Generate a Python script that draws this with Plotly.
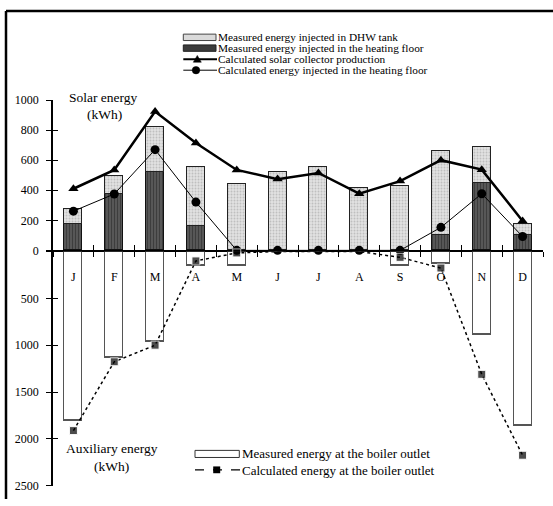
import plotly.graph_objects as go

# Monthly energy balance of the solar combi-system (kWh)
months = ["J", "F", "M", "A", "M", "J", "J", "A", "S", "O", "N", "D"]
heating_floor_measured = [175, 375, 520, 159, 0, 0, 0, 0, 0, 103, 447, 99]
dhw_tank_measured = [97, 119, 299, 398, 440, 524, 557, 412, 427, 559, 239, 76]
collector_calc = [410, 535, 923, 714, 535, 474, 515, 377, 461, 600, 537, 196]
heating_floor_calc = [261, 375, 670, 321, 0, 0, 0, 0, 0, 153, 377, 92]
boiler_measured = [1802, 1135, 965, 152, 152, 0, 0, 0, 152, 132, 889, 1854]
boiler_calc = [1912, 1177, 1000, 100, 15, 0, 0, 0, 62, 176, 1311, 2175]

solar_ticks = [0, 200, 400, 600, 800, 1000]
aux_ticks = [0, 500, 1000, 1500, 2000, 2500]

W, H = 553, 506
FONT = "Liberation Serif, Times New Roman, serif"


def px(x):
    return x / W


def py(y):
    return 1 - y / H


idx = list(range(len(months)))
bounds = [i - 0.5 for i in range(len(months) + 1)]
BW = 0.44

fig = go.Figure()

# Upper part: solar energy
fig.add_trace(go.Bar(
    x=idx, y=heating_floor_measured, width=BW, xaxis="x", yaxis="y",
    marker=dict(color="#555555", line=dict(color="#111111", width=1),
                pattern=dict(shape="|", fgcolor="#1e1e1e", bgcolor="#5c5c5c",
                             size=3, solidity=0.45)),
    showlegend=False,
))
fig.add_trace(go.Bar(
    x=idx, y=dhw_tank_measured, width=BW, xaxis="x", yaxis="y",
    marker=dict(color="#dedede", line=dict(color="#222222", width=1),
                pattern=dict(shape=".", fgcolor="#9a9a9a", bgcolor="#e2e2e2",
                             size=3, solidity=0.35)),
    showlegend=False,
))
fig.add_trace(go.Scatter(
    x=idx, y=collector_calc, xaxis="x", yaxis="y", mode="lines+markers",
    line=dict(color="black", width=2.5),
    marker=dict(symbol="triangle-up", size=9, color="black"),
    cliponaxis=False, showlegend=False,
))
fig.add_trace(go.Scatter(
    x=idx, y=heating_floor_calc, xaxis="x", yaxis="y", mode="lines+markers",
    line=dict(color="black", width=1),
    marker=dict(symbol="circle", size=9, color="black"),
    cliponaxis=False, showlegend=False,
))

# Lower part: auxiliary energy (axis reversed, bars grow downward)
fig.add_trace(go.Bar(
    x=idx, y=boiler_measured, width=BW, xaxis="x", yaxis="y2",
    marker=dict(color="rgba(255,255,255,0)", line=dict(color="#555555", width=1.5)),
    showlegend=False,
))
fig.add_trace(go.Scatter(
    x=idx, y=boiler_calc, xaxis="x", yaxis="y2", mode="lines+markers",
    line=dict(color="black", width=1.5, dash="dot"),
    marker=dict(symbol="square", color="black",
                size=[0 if v == 0 else 8 for v in boiler_calc]),
    cliponaxis=False, showlegend=False,
))

# Empty carriers so the overlay axes (inner ticks, month labels) get drawn
fig.add_trace(go.Scatter(x=[0], y=[0], xaxis="x2", yaxis="y3", mode="markers",
                         marker=dict(opacity=0), hoverinfo="skip", showlegend=False))
fig.add_trace(go.Scatter(x=[0], y=[0], xaxis="x3", yaxis="y4", mode="markers",
                         marker=dict(opacity=0), hoverinfo="skip", showlegend=False))

x_dom = [px(53), px(543)]
upper_dom = [py(250.3), py(95.7)]
lower_dom = [py(492.3), py(251.5)]

tickfont = dict(family=FONT, size=12, color="black")

fig.update_layout(
    width=W, height=H,
    margin=dict(l=0, r=0, t=0, b=0),
    paper_bgcolor="white", plot_bgcolor="rgba(0,0,0,0)",
    barmode="stack", bargap=0,
    font=dict(family=FONT, size=12, color="black"),
    xaxis=dict(domain=x_dom, anchor="y", range=[-0.5, 11.5],
               showgrid=False, zeroline=False, showline=True,
               linecolor="black", linewidth=1.5,
               tickmode="array", tickvals=bounds, showticklabels=False,
               ticks="outside", ticklen=5, tickcolor="black", tickwidth=1),
    xaxis2=dict(overlaying="x", anchor="y", range=[-0.5, 11.5],
                showgrid=False, zeroline=False, showline=False,
                tickmode="array", tickvals=bounds, showticklabels=False,
                ticks="inside", ticklen=5, tickcolor="black", tickwidth=1),
    xaxis3=dict(overlaying="x", anchor="y", range=[-0.5, 11.5],
                showgrid=False, zeroline=False, showline=False,
                tickmode="array", tickvals=idx, ticktext=months,
                ticks="outside", ticklen=15, tickcolor="rgba(0,0,0,0)",
                tickfont=tickfont),
    yaxis=dict(domain=upper_dom, anchor="x", range=[0, 1000],
               showgrid=False, zeroline=False, showline=True,
               linecolor="black", linewidth=1.5,
               tickmode="array", tickvals=solar_ticks,
               ticks="outside", ticklen=5, tickcolor="black", tickwidth=1,
               tickfont=tickfont, ticklabelstandoff=5),
    yaxis3=dict(overlaying="y", anchor="x", range=[0, 1000],
                showgrid=False, zeroline=False, showline=False,
                tickmode="array", tickvals=solar_ticks, showticklabels=False,
                ticks="inside", ticklen=5, tickcolor="black", tickwidth=1),
    yaxis2=dict(domain=lower_dom, anchor="x", range=[2500, 0],
                showgrid=False, zeroline=False, showline=True,
                linecolor="black", linewidth=1.5,
                tickmode="array", tickvals=aux_ticks,
                ticktext=[""] + [str(v) for v in aux_ticks[1:]],
                ticks="outside", ticklen=5, tickcolor="black", tickwidth=1,
                tickfont=tickfont, ticklabelstandoff=5),
    yaxis4=dict(overlaying="y2", anchor="x", range=[2500, 0],
                showgrid=False, zeroline=False, showline=False,
                tickmode="array", tickvals=aux_ticks, showticklabels=False,
                ticks="inside", ticklen=5, tickcolor="black", tickwidth=1),
)

shapes = []
annotations = []

# Outer frame (left and top edges)
shapes.append(dict(type="line", xref="paper", yref="paper",
                   x0=px(6), x1=px(553), y0=py(4), y1=py(4),
                   line=dict(color="black", width=2.5)))
shapes.append(dict(type="line", xref="paper", yref="paper",
                   x0=px(6), x1=px(6), y0=py(4), y1=py(506),
                   line=dict(color="black", width=2.5)))

top_legend_font = dict(family=FONT, size=11.3, color="black")
bottom_legend_font = dict(family=FONT, size=13, color="black")


def label(x, y, text, font, xanchor="left"):
    annotations.append(dict(xref="paper", yref="paper", x=px(x), y=py(y),
                            text=text, showarrow=False, xanchor=xanchor,
                            yanchor="middle", font=font, borderpad=0))


# Upper legend
rows = [31.2, 42.3, 53.8, 65.0]
sx0, sx1 = 183.3, 216.0
shapes.append(dict(type="rect", xref="paper", yref="paper",
                   x0=px(sx0), x1=px(sx1), y0=py(rows[0] + 3.3), y1=py(rows[0] - 3.3),
                   fillcolor="#dadada", line=dict(color="#444444", width=1)))
label(216.5, rows[0], "Measured energy injected in DHW tank", top_legend_font)
shapes.append(dict(type="rect", xref="paper", yref="paper",
                   x0=px(sx0), x1=px(sx1), y0=py(rows[1] + 3.3), y1=py(rows[1] - 3.3),
                   fillcolor="#3c3c3c", line=dict(color="#222222", width=1)))
label(216.5, rows[1], "Measured energy injected in the heating floor", top_legend_font)

shapes.append(dict(type="line", xref="paper", yref="paper",
                   x0=px(sx0), x1=px(sx1 + 1), y0=py(rows[2]), y1=py(rows[2]),
                   line=dict(color="black", width=2)))
tx, ty = 197.3, rows[2]
shapes.append(dict(type="path", xref="paper", yref="paper",
                   path=f"M {px(tx - 4)},{py(ty + 3)} L {px(tx + 4)},{py(ty + 3)} "
                        f"L {px(tx)},{py(ty - 4)} Z",
                   fillcolor="black", line=dict(color="black", width=0.5)))
label(216.5, rows[2], "Calculated solar collector production", top_legend_font)

shapes.append(dict(type="line", xref="paper", yref="paper",
                   x0=px(sx0), x1=px(sx1 + 1), y0=py(rows[3]), y1=py(rows[3]),
                   line=dict(color="black", width=1)))
cx, cy = 196.0, rows[3]
shapes.append(dict(type="circle", xref="paper", yref="paper",
                   x0=px(cx - 3.8), x1=px(cx + 3.8), y0=py(cy + 3.8), y1=py(cy - 3.8),
                   fillcolor="black", line=dict(color="black", width=0.5)))
label(216.5, rows[3], "Calculated energy injected in the heating floor", top_legend_font)

# Lower legend
shapes.append(dict(type="rect", xref="paper", yref="paper",
                   x0=px(195), x1=px(239.3), y0=py(463.3), y1=py(456),
                   fillcolor="white", line=dict(color="#333333", width=1)))
label(240.5, 458.8, "Measured energy at the boiler outlet", bottom_legend_font)
shapes.append(dict(type="line", xref="paper", yref="paper",
                   x0=px(195), x1=px(240), y0=py(476), y1=py(476),
                   line=dict(color="black", width=1.3, dash="dash")))
qx, qy = 216.7, 476.0
shapes.append(dict(type="rect", xref="paper", yref="paper",
                   x0=px(qx - 3.5), x1=px(qx + 3.5), y0=py(qy + 3.5), y1=py(qy - 3.5),
                   fillcolor="black", line=dict(color="black", width=0)))
label(240.5, 476.3, "Calculated energy at the boiler outlet", bottom_legend_font)

# Axis titles
title_font = dict(family=FONT, size=13.5, color="black")
label(103, 92.7, "Solar energy", title_font, "center")
label(104, 110.7, "(kWh)", title_font, "center")
label(111.7, 454.3, "Auxiliary energy", title_font, "center")
label(111.7, 472.7, "(kWh)", title_font, "center")

fig.update_layout(shapes=shapes, annotations=annotations)

fig.write_html("out.html")
